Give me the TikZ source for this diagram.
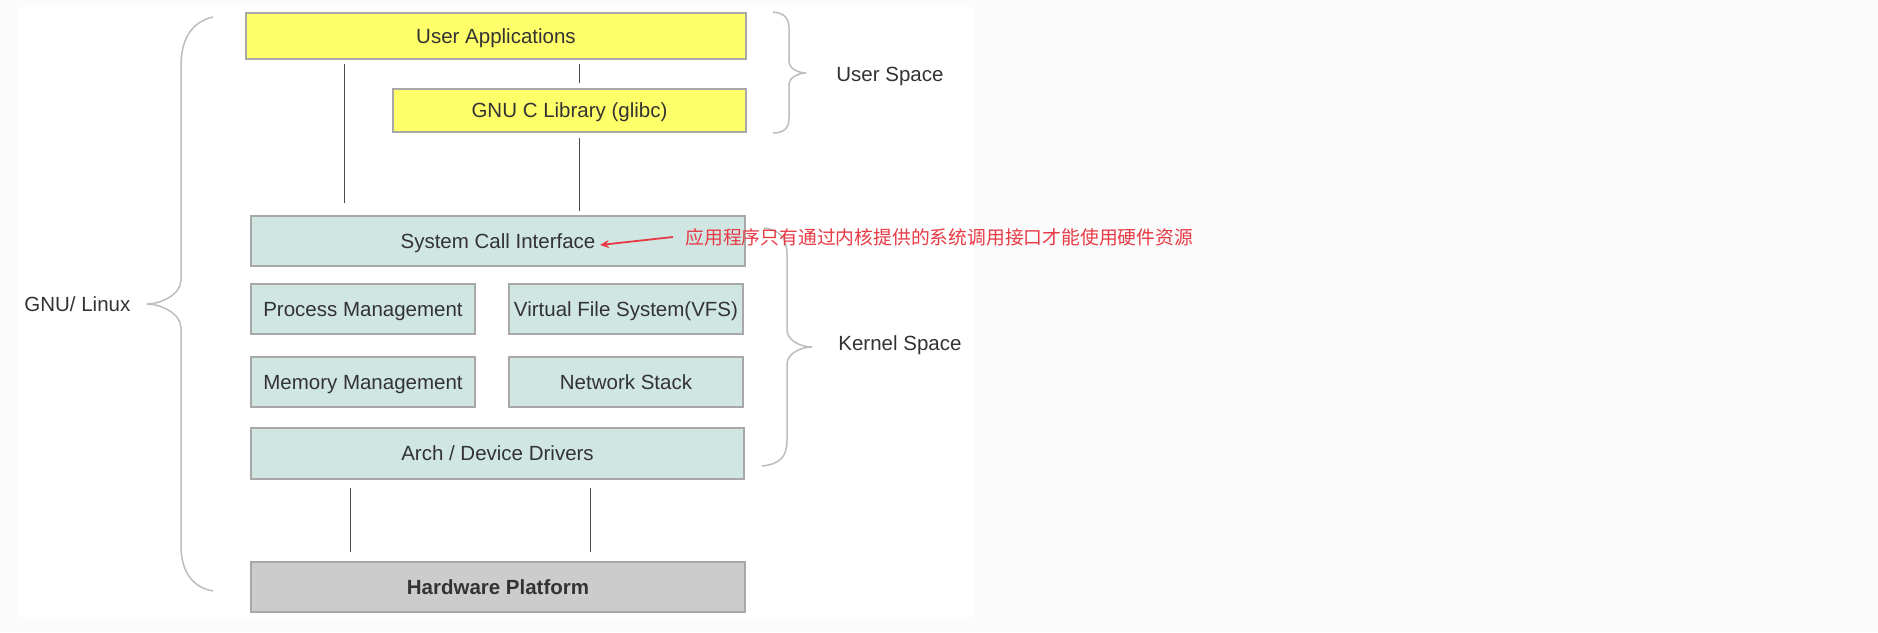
\documentclass[tikz,border=0pt]{standalone}
\usepackage{fontspec}
\setmainfont{Liberation Sans}
\newfontfamily\cjk{Noto Sans CJK SC}
\usetikzlibrary{arrows.meta,calc}
\definecolor{txt}{HTML}{333333}
\definecolor{boxline}{HTML}{A8A8A8}
\definecolor{ylw}{HTML}{FFFF6A}
\definecolor{teal}{HTML}{D0E6E3}
\definecolor{hwgray}{HTML}{CCCCCC}
\definecolor{brace}{HTML}{BDBDBD}
\definecolor{conn}{HTML}{4A4A4A}
\definecolor{note}{HTML}{E83A45}
\tikzset{
  layer/.style={draw=boxline, line width=0.75pt, inner sep=0pt, text=txt,
    text height=7.3pt, text depth=0pt,
    font=\fontsize{10.25pt}{12pt}\selectfont},
  userbox/.style={layer, fill=ylw},
  kernbox/.style={layer, fill=teal},
  hwbox/.style={layer, fill=hwgray, font=\fontsize{10.25pt}{12pt}\selectfont\bfseries},
  link/.style={draw=conn, line width=0.5pt},
  bracepath/.style={draw=brace, line width=0.75pt},
  sidelabel/.style={text=txt, inner sep=0pt, anchor=west, text height=7.3pt, text depth=0pt,
    font=\fontsize{10.25pt}{12pt}\selectfont},
}
\begin{document}
\begin{tikzpicture}[x=0.5pt,y=-0.5pt]
\useasboundingbox (0,0) rectangle (1878,632);
\fill[fill={rgb,255:red,251;green,251;blue,251}] (0,0) rectangle (1878,632);
\fill[white] (19,7) rectangle (974,617);

% boxes
\node[userbox, minimum width=250pt, minimum height=23pt] (ua) at (496,36) {User Applications};
\node[userbox, minimum width=176.5pt, minimum height=21.5pt] (glibc) at (569.5,110.5) {GNU C Library (glibc)};
\node[kernbox, minimum width=247pt, minimum height=25pt] (sci) at (498,241) {System Call Interface};
\node[kernbox, minimum width=112pt, minimum height=25pt] (pm) at (363,309) {Process Management};
\node[kernbox, minimum width=117pt, minimum height=25pt] (vfs) at (626,309) {Virtual File System(VFS)};
\node[kernbox, minimum width=112pt, minimum height=25pt] (mm) at (363,382) {Memory Management};
\node[kernbox, minimum width=117pt, minimum height=25pt] (ns) at (626,382) {Network Stack};
\node[kernbox, minimum width=246.5pt, minimum height=25.5pt] (arch) at (497.5,453.5) {Arch / Device Drivers};
\node[hwbox, minimum width=247pt, minimum height=25pt] (hw) at (498,587) {Hardware Platform};

% connector columns
\coordinate (c1) at (344,0);
\coordinate (c2) at (579,0);
\coordinate (c3) at (350,0);
\coordinate (c4) at (590,0);
\draw[link] ([yshift=-2pt]ua.south -| c1) -- ([yshift=6pt]sci.north -| c1);
\draw[link] ([yshift=-2pt]ua.south -| c2) -- ([yshift=2.5pt]glibc.north -| c2);
\draw[link] ([yshift=-2.5pt]glibc.south -| c2) -- ([yshift=2pt]sci.north -| c2);
\draw[link] ([yshift=-4pt]arch.south -| c3) -- ([yshift=4.5pt]hw.north -| c3);
\draw[link] ([yshift=-4pt]arch.south -| c4) -- ([yshift=4.5pt]hw.north -| c4);

% braces
\draw[bracepath] (213,17) .. controls (191,22) and (181,40) .. (181,66) -- (181,280)
  .. controls (181,295) and (160,304) .. (147,304)
  .. controls (160,304) and (181,313) .. (181,328) -- (181,545)
  .. controls (181,570) and (191,587) .. (213,591);
\draw[bracepath] (773,12) .. controls (784,13) and (789,18) .. (789,28) -- (789,62)
  .. controls (789,68) and (798,73) .. (806,73)
  .. controls (798,73) and (789,78) .. (789,84) -- (789,118)
  .. controls (789,128) and (784,133) .. (773,133);
\draw[bracepath] (764,228) .. controls (780,230) and (787,238) .. (787,255) -- (787,330)
  .. controls (787,340) and (800,347) .. (812,347)
  .. controls (800,347) and (787,354) .. (787,364) -- (787,440)
  .. controls (787,457) and (780,464) .. (762,466);

% labels
\node[sidelabel] (gnu) at (24,304.5) {GNU/ Linux};
\node[sidelabel] (us) at (836,74.5) {User Space};
\node[sidelabel] (ks) at (838,343) {Kernel Space};

% annotation
\node[inner sep=0pt, anchor=west, text=note, font=\cjk\fontsize{9.4pt}{11pt}\selectfont] (note) at (685,237) {应用程序只有通过内核提供的系统调用接口才能使用硬件资源};
\coordinate (tip) at (600,245);
\draw[note, line width=0.9pt, -{Stealth[length=4.5pt,width=4pt]}] ([xshift=-6pt]note.west) -- (tip);
\end{tikzpicture}
\end{document}
